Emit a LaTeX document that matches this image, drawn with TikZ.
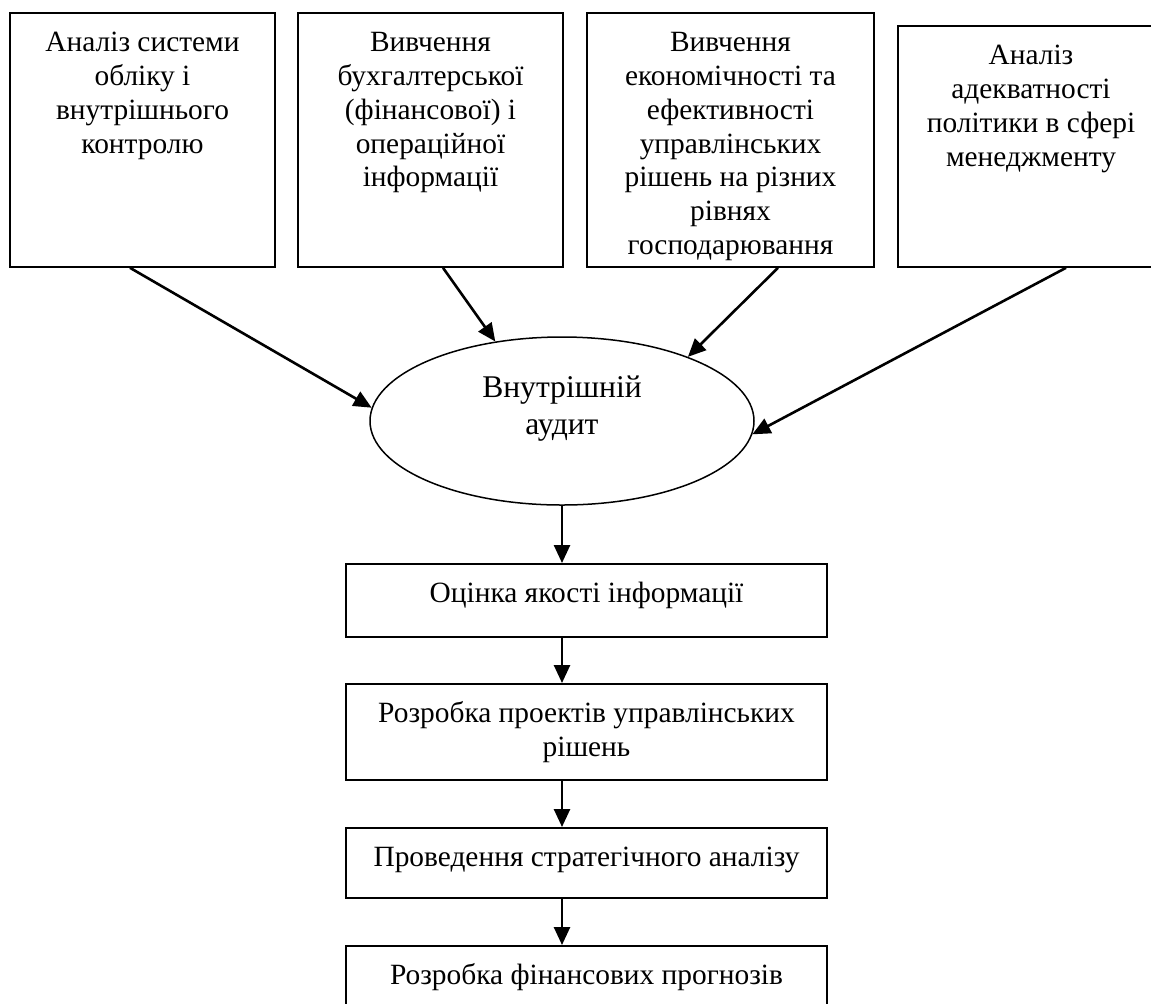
\documentclass[tikz,border=0pt]{standalone}
\usepackage{fontspec}
\setmainfont{Liberation Serif}
\usetikzlibrary{arrows.meta,shapes.geometric}

\newcommand{\boxlines}[3]{\parbox[c][#2][t]{#1}{\centering\rule{0pt}{19.5pt}#3}}

\begin{document}
\begin{tikzpicture}[x=0.5pt,y=-0.5pt,
	srcbox/.style={draw, line width=0.9pt, inner sep=0pt, anchor=north, font=\fontsize{14.7}{16.85}\selectfont},
	stepbox/.style={srcbox},
	auditshape/.style={ellipse, draw, line width=0.75pt, inner sep=0pt, minimum width=192pt, minimum height=84pt, font=\fontsize{15.8}{18.5}\selectfont},
	flow/.style={-{Triangle[length=9pt,width=8pt]}, line width=1.3pt}]
	\useasboundingbox (0,0) rectangle (1151,1003);
	
	\node[srcbox] (src1) at (142.5,12) {\boxlines{132.5pt}{127pt}{Аналіз системи\\обліку і\\внутрішнього\\контролю}};
	\node[srcbox] (src2) at (430.5,12) {\boxlines{132.5pt}{127pt}{Вивчення\\бухгалтерської\\(фінансової) і\\операційної\\інформації}};
	\node[srcbox] (src3) at (730.5,12) {\boxlines{143.5pt}{127pt}{Вивчення\\економічності та\\ефективності\\управлінських\\рішень на різних\\рівнях\\господарювання}};
	\node[srcbox] (src4) at (1031,25) {\boxlines{133pt}{120.5pt}{Аналіз\\адекватності\\політики в сфері\\менеджменту}};
	
	\node[auditshape] (audit) at (562,421) {\raisebox{6.25pt}[\height][\depth]{\begin{tabular}{@{}c@{}}Внутрішній\\аудит\end{tabular}}};
	
	\draw[flow] ([xshift=-6.25pt]src1.south) -- (audit.176);
	\draw[flow] ([xshift=6.25pt]src2.south) -- (audit.130);
	\draw[flow] ([xshift=23.75pt]src3.south) -- (audit.27);
	\draw[flow] ([xshift=17.5pt]src4.south) -- (audit.356);
	
	\node[stepbox] (quality) at (586.5,563) {\boxlines{240.5pt}{36.5pt}{Оцінка якості інформації}};
	\node[stepbox] (projects) at (586.5,683) {\boxlines{240.5pt}{48pt}{Розробка проектів управлінських\\рішень}};
	\node[stepbox] (strategy) at (586.5,827) {\boxlines{240.5pt}{35pt}{Проведення стратегічного аналізу}};
	\node[stepbox] (forecast) at (586.5,945) {\boxlines{240.5pt}{36.5pt}{Розробка фінансових прогнозів}};
	
	\draw[flow] (audit.south) -- (audit.south |- quality.north);
	\draw[flow] (quality.south -| audit.south) -- (projects.north -| audit.south);
	\draw[flow] (projects.south -| audit.south) -- (strategy.north -| audit.south);
	\draw[flow] (strategy.south -| audit.south) -- (forecast.north -| audit.south);
\end{tikzpicture}
\end{document}
